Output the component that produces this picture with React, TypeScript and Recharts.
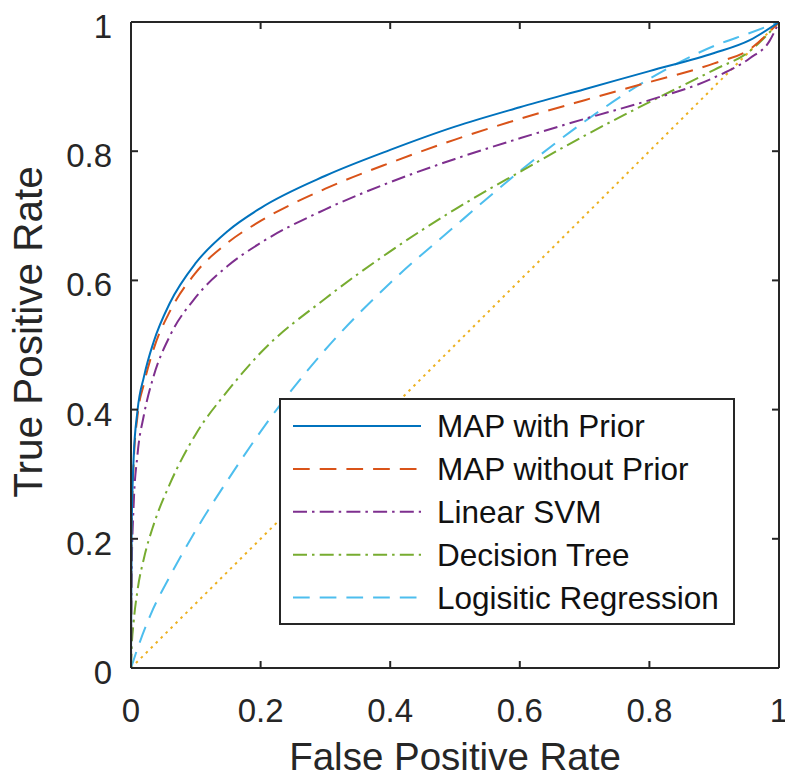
import { LineChart, Line, XAxis, YAxis, Legend } from "recharts";

const FONT = "'Liberation Sans', Arial, Helvetica, sans-serif";
const INK = "#262626";

const fprTicks = [0, 0.2, 0.4, 0.6, 0.8, 1];
const tprTicks = [0, 0.2, 0.4, 0.6, 0.8, 1];

// MAP with Prior
const mapPriorFpr = [0, 0.001, 0.004, 0.01, 0.02, 0.035, 0.06, 0.1, 0.15, 0.2, 0.3, 0.4, 0.5, 0.6, 0.7, 0.8, 0.9, 0.955, 1];
const mapPriorTpr = [0, 0.215, 0.323, 0.398, 0.451, 0.505, 0.565, 0.627, 0.677, 0.712, 0.762, 0.802, 0.838, 0.868, 0.896, 0.924, 0.952, 0.972, 1];

// MAP without Prior
const mapNoPriorFpr = [0, 0.001, 0.004, 0.01, 0.02, 0.035, 0.06, 0.1, 0.15, 0.2, 0.3, 0.4, 0.5, 0.6, 0.7, 0.8, 0.9, 0.955, 1];
const mapNoPriorTpr = [0, 0.21, 0.315, 0.39, 0.44, 0.494, 0.552, 0.612, 0.659, 0.692, 0.742, 0.782, 0.818, 0.85, 0.879, 0.907, 0.936, 0.958, 1];

// Linear SVM
const svmFpr = [0, 0.001, 0.004, 0.01, 0.02, 0.035, 0.06, 0.1, 0.15, 0.2, 0.3, 0.4, 0.5, 0.6, 0.7, 0.8, 0.9, 0.955, 0.985, 1];
const svmTpr = [0, 0.15, 0.25, 0.33, 0.392, 0.452, 0.514, 0.574, 0.623, 0.658, 0.71, 0.752, 0.788, 0.82, 0.85, 0.879, 0.914, 0.944, 0.97, 1];

// Decision Tree
const treeFpr = [0, 0.001, 0.004, 0.01, 0.02, 0.035, 0.06, 0.1, 0.15, 0.2, 0.3, 0.4, 0.5, 0.6, 0.7, 0.8, 0.9, 0.955, 1];
const treeTpr = [0, 0.03, 0.07, 0.12, 0.17, 0.222, 0.285, 0.362, 0.43, 0.488, 0.572, 0.645, 0.71, 0.768, 0.824, 0.876, 0.926, 0.955, 1];

// Logistic Regression
const logregFpr = [0, 0.01, 0.03, 0.06, 0.1, 0.15, 0.2, 0.3, 0.4, 0.5, 0.6, 0.7, 0.8, 0.9, 0.955, 1];
const logregTpr = [0, 0.03, 0.082, 0.142, 0.213, 0.292, 0.366, 0.493, 0.596, 0.684, 0.769, 0.846, 0.912, 0.963, 0.983, 1];

// chance diagonal
const chanceFpr = [0, 1];
const chanceTpr = [0, 1];

const zip = (xs: number[], ys: number[]) => xs.map((x, i) => ({ fpr: x, tpr: ys[i] }));

const series = [
  { name: "MAP with Prior", data: zip(mapPriorFpr, mapPriorTpr), color: "#0072BD", dash: undefined },
  { name: "MAP without Prior", data: zip(mapNoPriorFpr, mapNoPriorTpr), color: "#D95319", dash: "16.7 10" },
  { name: "Linear SVM", data: zip(svmFpr, svmTpr), color: "#7E2F8E", dash: "14 5 2.5 5.2" },
  { name: "Decision Tree", data: zip(treeFpr, treeTpr), color: "#77AC30", dash: "14 5 2.5 5.2" },
  { name: "Logisitic Regression", data: zip(logregFpr, logregTpr), color: "#4DBEEE", dash: "16.7 10" },
];

const fmt = (v: number) => (v === 0 || v === 1 ? String(v) : v.toFixed(1));

function XTick({ x, y, payload }: any) {
  return (
    <text x={x} y={y + 61} textAnchor="middle" fontSize={33} fill={INK} fontFamily={FONT}>
      {fmt(payload.value)}
    </text>
  );
}

function YTick({ x, y, payload }: any) {
  return (
    <text x={x - 26} y={y + 16} textAnchor="end" fontSize={33} fill={INK} fontFamily={FONT}>
      {fmt(payload.value)}
    </text>
  );
}

const noTick = () => <g />;

function XTitle({ viewBox }: any) {
  return (
    <text x={viewBox.x + viewBox.width / 2} y={viewBox.y + 102} textAnchor="middle" fontSize={38.5} fill={INK} fontFamily={FONT}>
      False Positive Rate
    </text>
  );
}

function YTitle({ viewBox }: any) {
  const cx = viewBox.x + 42;
  const cy = viewBox.y + viewBox.height / 2 - 13;
  return (
    <text x={cx} y={cy} transform={`rotate(-90 ${cx} ${cy})`} textAnchor="middle" fontSize={40.5} fill={INK} fontFamily={FONT}>
      True Positive Rate
    </text>
  );
}

function LegendBox() {
  const w = 456;
  const h = 227;
  return (
    <svg width={w} height={h} style={{ display: "block" }}>
      <rect x={1} y={1} width={w - 2} height={h - 2} fill="#fff" stroke={INK} strokeWidth={2} />
      {series.map((s, i) => {
        const cy = 28 + i * 42.9;
        return (
          <g key={s.name}>
            <line x1={14} x2={142} y1={cy} y2={cy} stroke={s.color} strokeWidth={2} strokeDasharray={s.dash} />
            <text x={158} y={cy + 11} fontSize={31.5} fill="#111" fontFamily={FONT}>
              {s.name}
            </text>
          </g>
        );
      })}
    </svg>
  );
}

export default function App() {
  return (
    <div style={{ position: "absolute", left: 0, top: 0, background: "#fff" }}>
      <LineChart width={785} height={779} margin={{ top: 21, right: 5, left: 0, bottom: 0 }}>
        <XAxis
          dataKey="fpr"
          type="number"
          domain={[0, 1]}
          ticks={fprTicks}
          height={111}
          tickSize={-7}
          tickMargin={0}
          tick={<XTick />}
          axisLine={{ stroke: INK, strokeWidth: 2 }}
          tickLine={{ stroke: INK, strokeWidth: 2 }}
          label={{ content: <XTitle /> }}
          allowDataOverflow
        />
        <XAxis
          xAxisId="top"
          orientation="top"
          dataKey="fpr"
          type="number"
          domain={[0, 1]}
          ticks={fprTicks}
          height={1}
          tickSize={-7}
          tick={noTick}
          axisLine={{ stroke: INK, strokeWidth: 2 }}
          tickLine={{ stroke: INK, strokeWidth: 2 }}
          allowDataOverflow
        />
        <YAxis
          dataKey="tpr"
          type="number"
          domain={[0, 1]}
          ticks={tprTicks}
          width={131}
          tickSize={-7}
          tickMargin={0}
          tick={<YTick />}
          axisLine={{ stroke: INK, strokeWidth: 2 }}
          tickLine={{ stroke: INK, strokeWidth: 2 }}
          label={{ content: <YTitle /> }}
          allowDataOverflow
        />
        <YAxis
          yAxisId="right"
          orientation="right"
          dataKey="tpr"
          type="number"
          domain={[0, 1]}
          ticks={tprTicks}
          width={1}
          tickSize={-7}
          tick={noTick}
          axisLine={{ stroke: INK, strokeWidth: 2 }}
          tickLine={{ stroke: INK, strokeWidth: 2 }}
          allowDataOverflow
        />
        <Line
          data={zip(chanceFpr, chanceTpr)}
          dataKey="tpr"
          type="linear"
          stroke="#EDB120"
          strokeWidth={2}
          strokeDasharray="2.5 4.5"
          dot={false}
          activeDot={false}
          isAnimationActive={false}
          legendType="none"
        />
        {series
          .slice()
          .reverse()
          .map((s) => (
            <Line
              key={s.name}
              name={s.name}
              data={s.data}
              dataKey="tpr"
              type="monotone"
              stroke={s.color}
              strokeWidth={2}
              strokeDasharray={s.dash}
              dot={false}
              activeDot={false}
              isAnimationActive={false}
            />
          ))}
        <Legend
          layout="horizontal"
          verticalAlign="middle"
          align="center"
          wrapperStyle={{ left: 279, top: 398, width: 456, height: 227 }}
          content={() => <LegendBox />}
        />
      </LineChart>
    </div>
  );
}
